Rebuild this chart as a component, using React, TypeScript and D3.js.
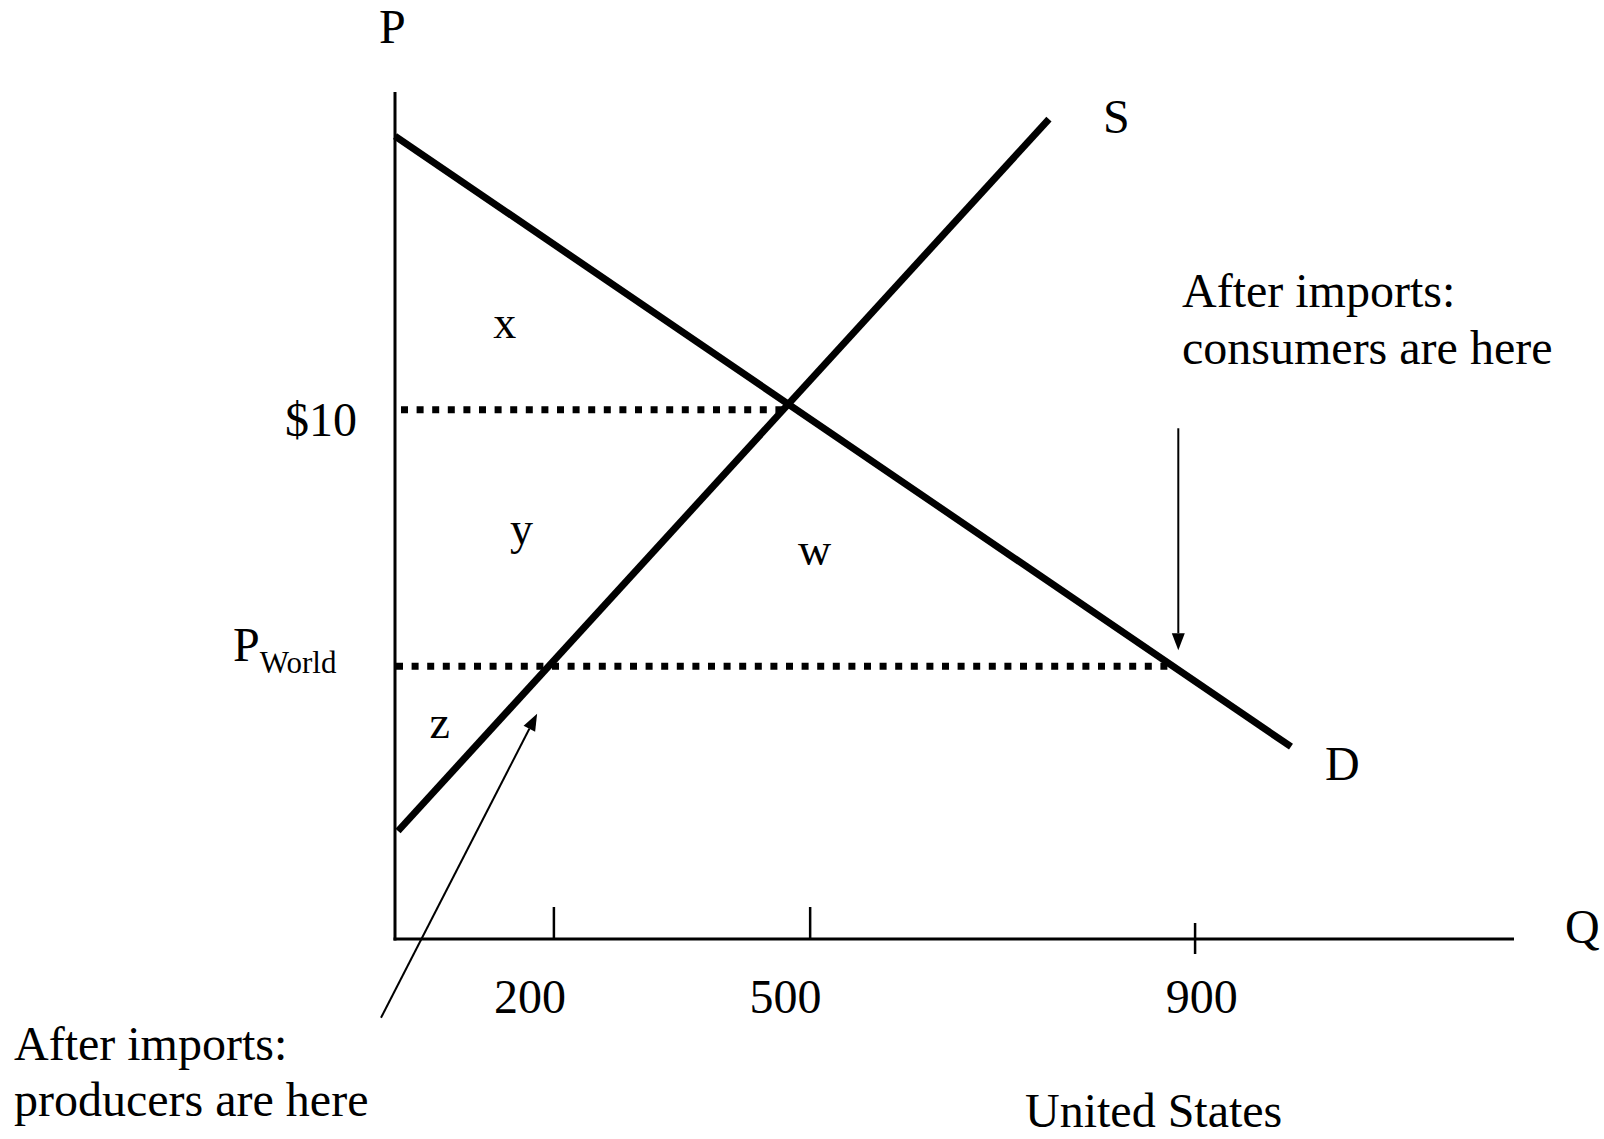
import React from "react";
import * as d3 from "d3";

// ---- data (abstract chart units: Q 0..1000, P 0..100) ----
const demandCurve = [
  { q: 0, p: 94.8 },
  { q: 800.7, p: 22.7 },
];
const supplyCurve = [
  { q: 2.7, p: 12.75 },
  { q: 584.4, p: 96.8 },
];
const priceLevels = [
  { key: "p10", p: 62.5, curve: "supply" },
  { key: "world", p: 32.2, curve: "demand" },
];
const qTickPositions = [142, 371, 715];
const qTickLabels = ["200", "500", "900"];
const qTickLabelPositions = [120.6, 349, 721];
const qTickCrosses = [false, false, true];
const regionLabels = [
  { text: "x", q: 98, p: 71 },
  { text: "y", q: 113, p: 46.6 },
  { text: "w", q: 375, p: 44.1 },
  { text: "z", q: 40, p: 23.7 },
];
const consumerArrow = { from: { q: 700, p: 60.3 }, to: { q: 700, p: 34.1 } };
const producerArrow = { from: { q: -12.5, p: -9.3 }, to: { q: 127, p: 26.6 } };
const consumerNote = ["After imports:", "consumers are here"];
const producerNote = ["After imports:", "producers are here"];

const W = 1604;
const H = 1139;
const FONT = "'Liberation Serif', 'Times New Roman', serif";

function qAtP(curve: { q: number; p: number }[], p: number) {
  const [a, b] = curve;
  const t = (p - a.p) / (b.p - a.p);
  return a.q + t * (b.q - a.q);
}

function Arrow({ x1, y1, x2, y2 }: { x1: number; y1: number; x2: number; y2: number }) {
  const ang = Math.atan2(y2 - y1, x2 - x1);
  const len = 17;
  const hw = 6.5;
  const bx = x2 - len * Math.cos(ang);
  const by = y2 - len * Math.sin(ang);
  const px = -Math.sin(ang) * hw;
  const py = Math.cos(ang) * hw;
  return (
    <g>
      <line x1={x1} y1={y1} x2={bx} y2={by} stroke="#000" strokeWidth={2} />
      <path d={`M${x2},${y2}L${bx + px},${by + py}L${bx - px},${by - py}Z`} fill="#000" />
    </g>
  );
}

export default function App() {
  const x0 = 395;
  const yAxis0 = 939;
  const x = d3.scaleLinear().domain([0, 1000]).range([x0, 1514]);
  const y = d3.scaleLinear().domain([0, 100]).range([yAxis0, 92]);
  const line = d3
    .line<{ q: number; p: number }>()
    .x((d) => x(d.q))
    .y((d) => y(d.p));

  return (
    <svg
      width={W}
      height={H}
      style={{ position: "absolute", left: 0, top: 0, background: "#fff" }}
      fontFamily={FONT}
    >
      <rect width={W} height={H} fill="#fff" />
      {/* axes */}
      <line x1={x0} y1={y(100)} x2={x0} y2={yAxis0 + 1.5} stroke="#000" strokeWidth={3} />
      <line x1={x0 - 1.5} y1={yAxis0} x2={x(1000)} y2={yAxis0} stroke="#000" strokeWidth={3} />
      <text x={379} y={43} fontSize={48}>P</text>
      <text x={1565} y={943} fontSize={48}>Q</text>

      {/* ticks */}
      {qTickPositions.map((q, i) => (
        <line
          key={"t" + i}
          x1={x(q)}
          x2={x(q)}
          y1={qTickCrosses[i] ? yAxis0 - 16 : yAxis0 - 32}
          y2={qTickCrosses[i] ? yAxis0 + 15 : yAxis0}
          stroke="#000"
          strokeWidth={2.5}
        />
      ))}
      {qTickLabels.map((t, i) => (
        <text key={"l" + i} x={x(qTickLabelPositions[i])} y={1013} fontSize={48} textAnchor="middle">
          {t}
        </text>
      ))}

      {/* dotted price lines */}
      {priceLevels.map((pl) => {
        const qEnd = qAtP(pl.curve === "supply" ? supplyCurve : demandCurve, pl.p);
        return (
          <line
            key={pl.key}
            x1={pl.key === "p10" ? x0 + 6 : x0 + 1}
            x2={x(qEnd)}
            y1={y(pl.p)}
            y2={y(pl.p)}
            stroke="#000"
            strokeWidth={7}
            strokeDasharray="7 8.6"
          />
        );
      })}

      {/* curves */}
      <path d={line(demandCurve) || ""} stroke="#000" strokeWidth={7} fill="none" />
      <path d={line(supplyCurve) || ""} stroke="#000" strokeWidth={7} fill="none" />
      <text x={1103} y={133} fontSize={48}>S</text>
      <text x={1325} y={780} fontSize={48}>D</text>

      {/* price labels */}
      <text x={357} y={436} fontSize={48} textAnchor="end">$10</text>
      <text x={233} y={661} fontSize={48}>
        P
        <tspan fontSize={31} dy={12}>World</tspan>
      </text>

      {/* region letters */}
      {regionLabels.map((r) => (
        <text key={r.text} x={x(r.q)} y={y(r.p)} fontSize={46} textAnchor="middle">
          {r.text}
        </text>
      ))}

      {/* arrows */}
      <Arrow
        x1={x(consumerArrow.from.q)}
        y1={y(consumerArrow.from.p)}
        x2={x(consumerArrow.to.q)}
        y2={y(consumerArrow.to.p)}
      />
      <Arrow
        x1={x(producerArrow.from.q)}
        y1={y(producerArrow.from.p)}
        x2={x(producerArrow.to.q)}
        y2={y(producerArrow.to.p)}
      />

      {/* notes */}
      {consumerNote.map((t, i) => (
        <text key={"c" + i} x={1182} y={307 + i * 57} fontSize={48}>
          {t}
        </text>
      ))}
      {producerNote.map((t, i) => (
        <text key={"p" + i} x={14} y={1060 + i * 56} fontSize={48}>
          {t}
        </text>
      ))}
      <text x={1025} y={1127} fontSize={48}>United States</text>
    </svg>
  );
}
